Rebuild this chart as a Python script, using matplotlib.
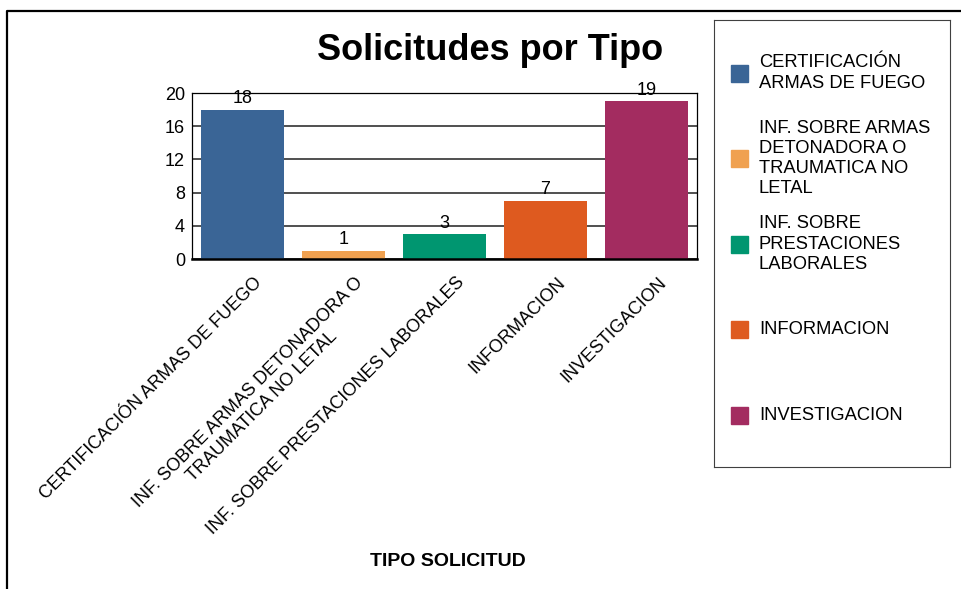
import numpy as np
import matplotlib
matplotlib.use("Agg")
import matplotlib.pyplot as plt
from matplotlib.patches import Rectangle
from matplotlib.lines import Line2D
import matplotlib.transforms as mtransforms

plt.rcParams['font.family'] = ['Liberation Sans', 'DejaVu Sans']

# data
categorias = ["CERTIFICACIÓN ARMAS DE FUEGO",
              "INF. SOBRE ARMAS DETONADORA O\nTRAUMATICA NO LETAL",
              "INF. SOBRE PRESTACIONES LABORALES",
              "INFORMACION",
              "INVESTIGACION"]
leyenda = ["CERTIFICACIÓN\nARMAS DE FUEGO",
           "INF. SOBRE ARMAS\nDETONADORA O\nTRAUMATICA NO\nLETAL",
           "INF. SOBRE\nPRESTACIONES\nLABORALES",
           "INFORMACION",
           "INVESTIGACION"]
valores = [18, 1, 3, 7, 19]
colores = ["#3A6596", "#F0A150", "#009670", "#DE5A1F", "#A32C60"]
yticks = [0, 4, 8, 12, 16, 20]

W, H = 961, 589
fig = plt.figure(figsize=(W / 100, H / 100), dpi=100)

def px(l, t, r, b):
    return [l / W, 1 - b / H, (r - l) / W, (b - t) / H]

# outer frame (top and left only)
fig.add_artist(Line2D([7 / W, 7 / W, 1.0], [0.0, 1 - 11 / H, 1 - 11 / H],
                      transform=fig.transFigure, color='black', lw=1.6))

ax = fig.add_axes(px(192, 93, 697, 259))
x = np.arange(len(valores))
bars = ax.bar(x, valores, width=0.82, color=colores, zorder=2)
ax.set_xlim(-0.5, len(valores) - 0.5)
ax.set_ylim(0, 20)
ax.set_yticks(yticks)
ax.yaxis.grid(True, color='#202020', lw=1.1, zorder=0)
ax.set_axisbelow(True)
ax.tick_params(axis='y', length=0, pad=5, labelsize=13)
ax.tick_params(axis='x', length=0)
for s in ax.spines.values():
    s.set_linewidth(0.9)
ax.spines['bottom'].set_linewidth(1.8)

for b, v in zip(bars, valores):
    ax.text(b.get_x() + b.get_width() / 2, v + 0.3, str(v),
            ha='center', va='bottom', fontsize=13)

ax.set_xticks(x)
ax.set_xticklabels(categorias, rotation=45, ha='right', va='top',
                   rotation_mode='anchor', fontsize=13, multialignment='center',
                   linespacing=1.25)
off = mtransforms.ScaledTranslation(0.11, -0.10, fig.dpi_scale_trans)
for lab in ax.get_xticklabels():
    lab.set_transform(lab.get_transform() + off)

fig.text(448 / W, 1 - 561 / H, "TIPO SOLICITUD", ha='center', va='center',
         fontsize=14, fontweight='bold')
fig.text(490 / W, 1 - 50 / H, "Solicitudes por Tipo", ha='center', va='center',
         fontsize=26, fontweight='bold')

# legend box
lg = fig.add_axes(px(714, 20, 950, 467))
lg.set_xlim(714, 950)
lg.set_ylim(467, 20)
lg.set_xticks([])
lg.set_yticks([])
for s in lg.spines.values():
    s.set_linewidth(0.8)
    s.set_color('#404040')
for i, (lab, c) in enumerate(zip(leyenda, colores)):
    yc = 73 + i * 85.5
    lg.add_patch(Rectangle((731, yc - 8.5), 17, 17, color=c))
    lg.text(759, yc, lab, ha='left', va='center', fontsize=13.2, linespacing=1.25)

fig.savefig("out.png", dpi=100)
